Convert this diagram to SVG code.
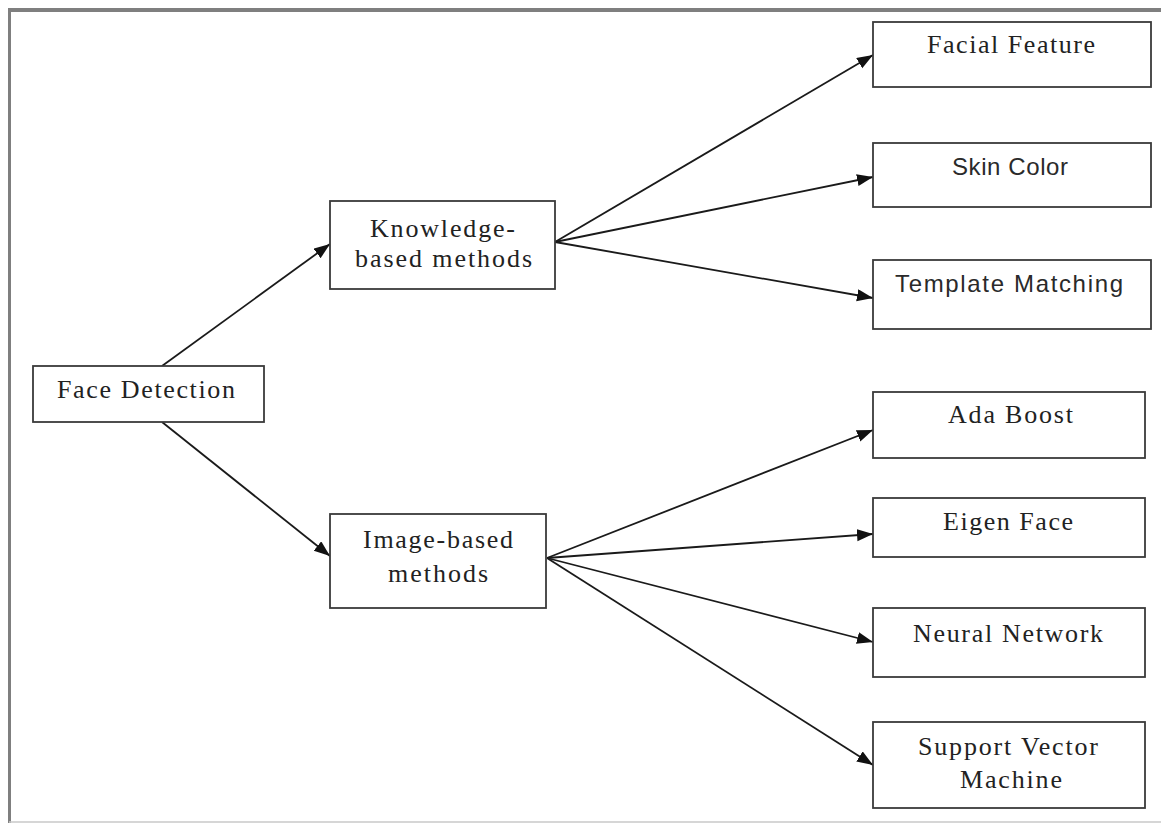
<svg xmlns="http://www.w3.org/2000/svg" width="1161" height="823" viewBox="0 0 1161 823">
<style>
.box{fill:#fff;stroke:#3a3a3a;stroke-width:1.8}
.serif{font-family:"Liberation Serif","Times New Roman",serif;font-size:26px;fill:#222}
.sans{font-family:"Liberation Sans",Arial,sans-serif;font-size:24px;fill:#2a2a2a}
.conn line{stroke:#1a1a1a;stroke-width:1.8;marker-end:url(#arr)}
</style>
<defs>
<marker id="arr" markerUnits="userSpaceOnUse" markerWidth="17" markerHeight="13" refX="16" refY="6" orient="auto">
<path d="M0,0 L16,6 L0,12 z" fill="#111"/>
</marker>
</defs>
<rect width="1161" height="823" fill="#fff"/>
<g id="frame">
<line x1="8" y1="10" x2="1161" y2="10" stroke="#7f7f7f" stroke-width="4"/>
<line x1="9.5" y1="8" x2="9.5" y2="823" stroke="#7f7f7f" stroke-width="3"/>
<line x1="9" y1="822" x2="1161" y2="822" stroke="#c8c8c8" stroke-width="1.5"/>
</g>
<g class="conn" id="connectors">
<line x1="162" y1="366" x2="330" y2="244"/>
<line x1="162" y1="422" x2="330" y2="556"/>
<line x1="555" y1="242" x2="873" y2="55"/>
<line x1="555" y1="242" x2="873" y2="177"/>
<line x1="555" y1="242" x2="873" y2="298"/>
<line x1="547" y1="558" x2="873" y2="430"/>
<line x1="547" y1="558" x2="873" y2="534"/>
<line x1="547" y1="558" x2="873" y2="642"/>
<line x1="547" y1="558" x2="873" y2="765"/>
</g>
<g id="face-detection">
<rect class="box" x="33" y="366" width="231" height="56"/>
<text class="serif" x="57" y="398" textLength="178" lengthAdjust="spacing">Face Detection</text>
</g>
<g id="knowledge-based">
<rect class="box" x="330" y="201" width="225" height="88"/>
<text class="serif" x="370" y="237" textLength="145" lengthAdjust="spacing">Knowledge-</text>
<text class="serif" x="355" y="267" textLength="177" lengthAdjust="spacing">based methods</text>
</g>
<g id="image-based">
<rect class="box" x="330" y="514" width="216" height="94"/>
<text class="serif" x="363" y="548" textLength="150" lengthAdjust="spacing">Image-based</text>
<text class="serif" x="388" y="582" textLength="100" lengthAdjust="spacing">methods</text>
</g>
<g id="facial-feature">
<rect class="box" x="873" y="22" width="278" height="65"/>
<text class="serif" x="927" y="53" textLength="168" lengthAdjust="spacing">Facial Feature</text>
</g>
<g id="skin-color">
<rect class="box" x="873" y="143" width="278" height="64"/>
<text class="sans" x="952" y="175" textLength="116" lengthAdjust="spacing">Skin Color</text>
</g>
<g id="template-matching">
<rect class="box" x="873" y="260" width="278" height="69"/>
<text class="sans" x="895" y="292" textLength="228" lengthAdjust="spacing">Template Matching</text>
</g>
<g id="ada-boost">
<rect class="box" x="873" y="392" width="272" height="66"/>
<text class="serif" x="948" y="423" textLength="125" lengthAdjust="spacing">Ada Boost</text>
</g>
<g id="eigen-face">
<rect class="box" x="873" y="498" width="272" height="59"/>
<text class="serif" x="943" y="530" textLength="130" lengthAdjust="spacing">Eigen Face</text>
</g>
<g id="neural-network">
<rect class="box" x="873" y="608" width="272" height="69"/>
<text class="serif" x="913" y="642" textLength="190" lengthAdjust="spacing">Neural Network</text>
</g>
<g id="svm">
<rect class="box" x="873" y="722" width="272" height="86"/>
<text class="serif" x="918" y="755" textLength="180" lengthAdjust="spacing">Support Vector</text>
<text class="serif" x="960" y="788" textLength="102" lengthAdjust="spacing">Machine</text>
</g>
</svg>
